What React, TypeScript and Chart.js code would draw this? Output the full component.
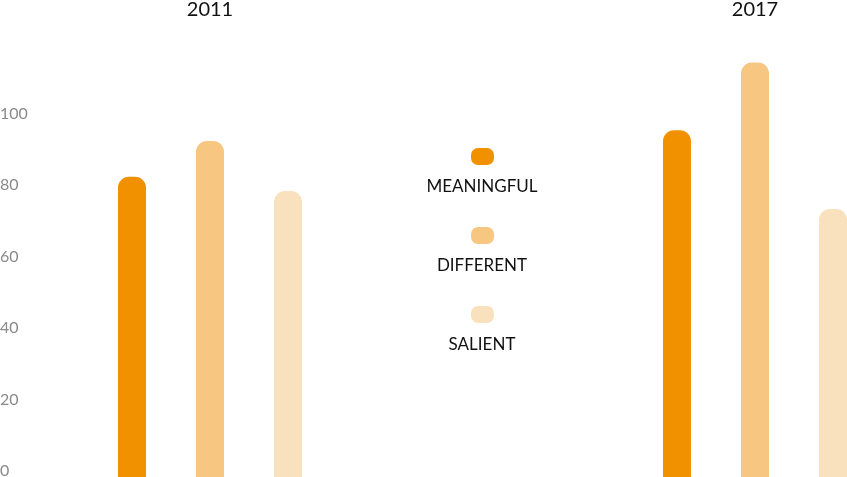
import { useEffect, useRef } from 'react'
import { Chart, ChartConfiguration, registerables } from 'chart.js'

Chart.register(...registerables)

const years = ['2011', '2017']
const meaningful = [84, 97]
const different = [94, 116]
const salient = [80, 75]
const yTicks = [0, 20, 40, 60, 80, 100]

const seriesNames = ['MEANINGFUL', 'DIFFERENT', 'SALIENT']
const seriesColors = ['#F29100', '#F7C680', '#FAE1BE']

const FONT = 'Lato, "Open Sans", sans-serif'

const App = () => {
  const canvasRef = useRef<HTMLCanvasElement>(null)
  const chartRef = useRef<Chart | null>(null)

  useEffect(() => {
    if (!canvasRef.current) return
    const ctx = canvasRef.current.getContext('2d')
    if (!ctx) return
    if (chartRef.current) chartRef.current.destroy()

    const series = [meaningful, different, salient]

    const config: ChartConfiguration = {
      type: 'bar',
      data: {
        labels: years,
        datasets: series.map((values, i) => ({
          label: seriesNames[i],
          data: values,
          backgroundColor: seriesColors[i],
          borderRadius: 11,
          borderSkipped: 'start',
          barPercentage: 1,
          categoryPercentage: 0.4294,
          maxBarThickness: 28,
          clip: false,
        })),
      },
      options: {
        responsive: true,
        maintainAspectRatio: false,
        animation: false,
        layout: { padding: { left: 0, right: 92, top: 0, bottom: 0 } },
        plugins: {
          legend: { display: false },
          tooltip: { enabled: false },
        },
        scales: {
          x: {
            position: 'top',
            offset: false,
            grid: { display: false, drawTicks: false },
            border: { display: false },
            afterFit: (scale) => {
              scale.height = 41
              scale.paddingLeft = 0
              scale.paddingRight = 0
            },
            ticks: {
              padding: 19,
              color: '#111',
              font: { family: FONT, size: 20 },
            },
          },
          y: {
            min: 0,
            max: 122,
            grid: { display: false, drawTicks: false },
            border: { display: false },
            afterBuildTicks: (scale) => {
              scale.ticks = yTicks.map((v) => ({ value: v }))
            },
            afterFit: (scale) => {
              scale.width = 210
              scale.paddingTop = 0
              scale.paddingBottom = 0
            },
            ticks: {
              crossAlign: 'far',
              labelOffset: -6,
              color: '#8a8a8a',
              font: { family: FONT, size: 16 },
            },
          },
        },
      },
    }

    chartRef.current = new Chart(ctx, config)

    return () => {
      if (chartRef.current) {
        chartRef.current.destroy()
        chartRef.current = null
      }
    }
  }, [])

  return (
    <div style={{ position: 'relative', width: '847px', height: '477px', background: '#fff' }}>
      <style>{'body{margin:0}'}</style>
      <canvas ref={canvasRef}></canvas>
      {seriesNames.map((name, i) => (
        <div
          key={name}
          style={{
            position: 'absolute',
            left: '382px',
            width: '200px',
            top: `${148 + i * 79}px`,
            textAlign: 'center',
            fontFamily: FONT,
          }}
        >
          <div
            style={{
              width: '23px',
              height: '17px',
              borderRadius: '7px',
              background: seriesColors[i],
              margin: '0 auto',
            }}
          ></div>
          <div style={{ marginTop: '11px', fontSize: '17px', lineHeight: '20px', color: '#111' }}>
            {name}
          </div>
        </div>
      ))}
    </div>
  )
}

export default App
